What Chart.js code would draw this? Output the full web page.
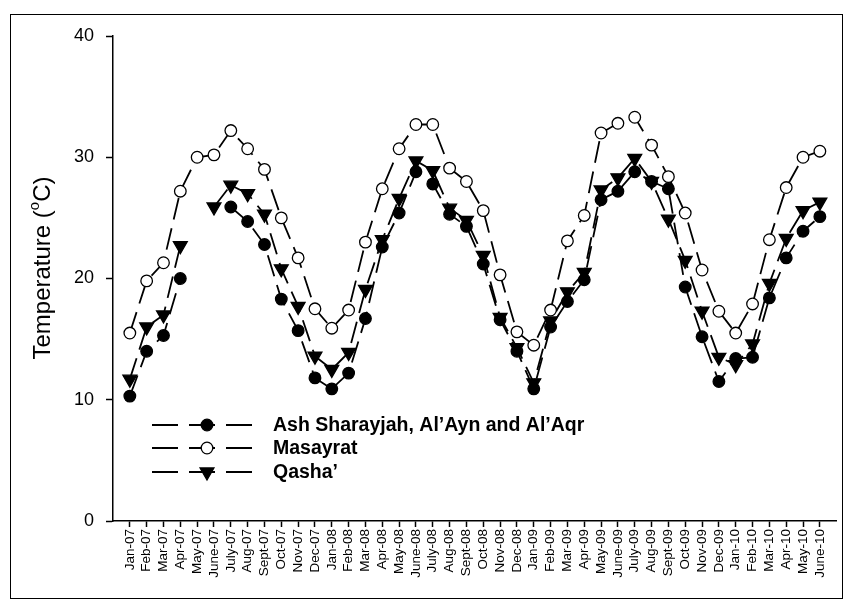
<!DOCTYPE html>
<html>
<head>
<meta charset="utf-8">
<script src="https://cdn.jsdelivr.net/npm/chart.js@4/dist/chart.umd.min.js"></script>
<style>
  html, body { margin: 0; padding: 0; background: #fff; }
  canvas { display: block; }
</style>
</head>
<body>
<canvas id="tempchart" width="846" height="599"></canvas>
<script>
var months = ['Jan-07','Feb-07','Mar-07','Apr-07','May-07','June-07','July-07','Aug-07','Sept-07','Oct-07','Nov-07','Dec-07',
              'Jan-08','Feb-08','Mar-08','Apr-08','May-08','June-08','July-08','Aug-08','Sept-08','Oct-08','Nov-08','Dec-08',
              'Jan-09','Feb-09','Mar-09','Apr-09','May-09','June-09','July-09','Aug-09','Sept-09','Oct-09','Nov-09','Dec-09',
              'Jan-10','Feb-10','Mar-10','Apr-10','May-10','June-10'];
var ashSharayjah = [10.3, 14.0, 15.3, 20.0, null, null, 25.9, 24.7, 22.8, 18.3, 15.7, 11.8,
                    10.9, 12.2, 16.7, 22.6, 25.4, 28.8, 27.8, 25.3, 24.3, 21.2, 16.6, 14.0,
                    10.9, 16.0, 18.1, 19.9, 26.5, 27.2, 28.8, 28.0, 27.4, 19.3, 15.2, 11.5,
                    13.4, 13.5, 18.4, 21.7, 23.9, 25.1];
var masayrat = [15.5, 19.8, 21.3, 27.2, 30.0, 30.2, 32.2, 30.7, 29.0, 25.0, 21.7, 17.5,
                15.9, 17.4, 23.0, 27.4, 30.7, 32.7, 32.7, 29.1, 28.0, 25.6, 20.3, 15.6,
                14.5, 17.4, 23.1, 25.2, 32.0, 32.8, 33.3, 31.0, 28.4, 25.4, 20.7, 17.3,
                15.5, 17.9, 23.2, 27.5, 30.0, 30.5];
var qasha = [11.7, 16.0, 17.0, 22.7, null, 25.9, 27.7, 27.0, 25.3, 20.8, 17.7, 13.6,
             12.5, 13.9, 19.1, 23.2, 26.6, 29.7, 28.9, 25.8, 24.8, 21.9, 16.8, 14.3,
             11.4, 16.5, 18.9, 20.5, 27.3, 28.3, 29.9, 28.0, 24.9, 21.5, 17.3, 13.5,
             12.9, 14.6, 19.6, 23.3, 25.6, 26.3];
var seriesNames = ['Ash Sharayjah, Al\u2019Ayn and Al\u2019Aqr', 'Masayrat', 'Qasha\u2019'];
var yTicks = [0, 10, 20, 30, 40];

var FONT = '"Liberation Sans", Arial, sans-serif';
var DASH = [22, 9];

function points(arr) {
    return arr.map(function (v, i) { return { x: i, y: v }; });
}

function series(label, arr, style, fill, radius, rotation) {
    return {
        label: label,
        data: points(arr),
        borderColor: 'black',
        borderWidth: 1.8,
        borderDash: DASH,
        fill: false,
        spanGaps: false,
        pointStyle: style,
        pointRadius: radius,
        pointRotation: rotation,
        pointBackgroundColor: fill,
        pointBorderColor: 'black',
        pointBorderWidth: 1.3
    };
}

// frame, y title and legend drawn on the canvas
var extras = {
    id: 'extras',
    afterDraw: function (chart) {
        var ctx = chart.ctx;
        ctx.save();
        ctx.strokeStyle = 'black';
        ctx.lineWidth = 1;
        ctx.strokeRect(10.5, 14.5, 832, 584);

        // y axis title
        ctx.translate(43, 268);
        ctx.rotate(-Math.PI / 2);
        ctx.fillStyle = 'black';
        ctx.textBaseline = 'middle';
        var a = 'Temperature (', b = 'o', c = 'C)';
        ctx.font = '24px ' + FONT;
        var wa = ctx.measureText(a).width, wc = ctx.measureText(c).width;
        ctx.font = '15px ' + FONT;
        var wb = ctx.measureText(b).width;
        var x0 = -(wa + wb + wc) / 2;
        ctx.font = '24px ' + FONT;
        ctx.fillText(a, x0, 0);
        ctx.font = '15px ' + FONT;
        ctx.fillText(b, x0 + wa, -8);
        ctx.font = '24px ' + FONT;
        ctx.fillText(c, x0 + wa + wb, 0);
        ctx.restore();

        // legend
        var rows = [425, 448, 472];
        chart.data.datasets.forEach(function (ds, k) {
            var y = rows[k];
            ctx.save();
            ctx.strokeStyle = 'black';
            ctx.lineWidth = 1.8;
            ctx.setLineDash([26, 11]);
            ctx.beginPath();
            ctx.moveTo(152, y);
            ctx.lineTo(253, y);
            ctx.stroke();
            ctx.setLineDash([]);
            ctx.fillStyle = ds.pointBackgroundColor;
            ctx.lineWidth = ds.pointBorderWidth;
            ctx.beginPath();
            var r = ds.pointRadius, mx = 207;
            if (ds.pointStyle === 'triangle') {
                ctx.moveTo(mx - r * 0.866, y - r / 2);
                ctx.lineTo(mx + r * 0.866, y - r / 2);
                ctx.lineTo(mx, y + r);
                ctx.closePath();
            } else {
                ctx.arc(mx, y, r, 0, Math.PI * 2);
            }
            ctx.fill();
            ctx.stroke();
            ctx.fillStyle = 'black';
            ctx.font = 'bold 19.5px ' + FONT;
            ctx.textBaseline = 'middle';
            ctx.fillText(ds.label, 273, y + 1);
            ctx.restore();
        });
    }
};

var ctx = document.getElementById('tempchart').getContext('2d');
var tempchart = new Chart(ctx, {
    type: 'line',
    data: {
        datasets: [
            series(seriesNames[0], ashSharayjah, 'circle', 'black', 5.8, 0),
            series(seriesNames[1], masayrat, 'circle', 'white', 5.8, 0),
            series(seriesNames[2], qasha, 'triangle', 'black', 8, 180)
        ]
    },
    options: {
        responsive: false,
        animation: false,
        layout: { padding: { left: 0, top: 36, right: 8, bottom: 0 } },
        plugins: {
            legend: { display: false },
            tooltip: { enabled: false }
        },
        scales: {
            x: {
                type: 'linear',
                min: -1,
                max: 42,
                afterBuildTicks: function (scale) {
                    scale.ticks = months.map(function (m, i) { return { value: i }; });
                },
                afterFit: function (scale) { scale.height = 78; },
                ticks: {
                    autoSkip: false,
                    maxRotation: 90,
                    minRotation: 90,
                    padding: 2,
                    color: 'black',
                    font: { family: FONT, size: 13.5 },
                    callback: function (v) { return months[v]; }
                },
                grid: { drawOnChartArea: false, drawTicks: true, tickLength: 6, tickColor: 'black', tickWidth: 1.5 },
                border: { display: true, color: 'black', width: 1.5 }
            },
            y: {
                min: 0,
                max: 40,
                afterBuildTicks: function (scale) {
                    scale.ticks = yTicks.map(function (v) { return { value: v }; });
                },
                afterFit: function (scale) { scale.width = 113; },
                ticks: {
                    padding: 12,
                    color: 'black',
                    font: { family: FONT, size: 18 }
                },
                grid: { drawOnChartArea: false, drawTicks: true, tickLength: 7, tickColor: 'black', tickWidth: 1.5 },
                border: { display: true, color: 'black', width: 1.5 }
            }
        }
    },
    plugins: [extras]
});
</script>
</body>
</html>
